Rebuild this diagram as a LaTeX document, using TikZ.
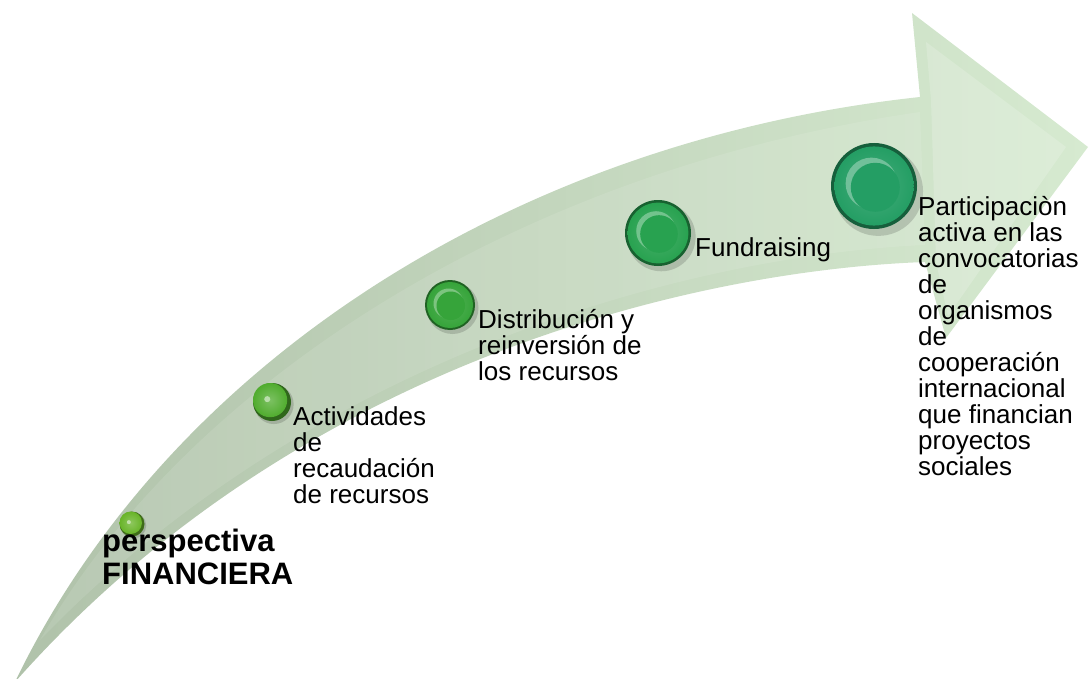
\documentclass[tikz,border=0pt]{standalone}
\usepackage{fontspec}
\setmainfont{Liberation Sans}
\definecolor{arrowA}{RGB}{176,194,170}
\definecolor{arrowB}{RGB}{214,234,208}
\definecolor{ballA}{RGB}{104,180,40}
\definecolor{ballB}{RGB}{80,172,46}
\definecolor{ballC}{RGB}{54,164,58}
\definecolor{ballD}{RGB}{40,162,80}
\definecolor{ballE}{RGB}{36,158,100}
\tikzset{
  lbl/.style={inner sep=0pt, align=left, anchor=base west, text=black,
    font=\fontsize{26}{26}\selectfont},
  ttl/.style={inner sep=0pt, align=left, anchor=base west, text=black,
    font=\fontsize{31}{33}\selectfont\bfseries},
  pics/ball/.style 2 args={code={
    \fill[black,opacity=0.15] (0.10*#1,0.12*#1) circle (1.04*#1);
    \fill[#2!60!black] (0,0) circle (#1);
    \shade[inner color=#2!85!white, outer color=#2] (0,0) circle (0.92*#1);
    \fill[#2!65!white] (-0.06*#1,-0.06*#1) circle (0.6*#1);
    \fill[#2] (0.03*#1,0.03*#1) circle (0.57*#1);
  }},
  pics/smallball/.style 2 args={code={
    \fill[black,opacity=0.15] (0.10*#1,0.12*#1) circle (1.04*#1);
    \fill[#2!60!black] (0,0) circle (#1);
    \shade[inner color=#2!75!white, outer color=#2] (-0.1*#1,-0.1*#1) circle (0.9*#1);
    \fill[#2!40!white] (-0.25*#1,-0.15*#1) circle (0.16*#1);
  }}
}
\begin{document}
\begin{tikzpicture}[x=1pt,y=-1pt]
\useasboundingbox (0,0) rectangle (1091,679);
% curved arrow
\shade[left color=arrowA, right color=arrowB]
  (15,682) .. controls (170,360) and (520,140) .. (920,97)
  -- (912,13) -- (1088,147) -- (946,338) -- (925,262)
  .. controls (700,270) and (300,360) .. (15,682) -- cycle;
% subtle facet on the arrow head
\fill[white,opacity=0.18] (926,42) -- (1066,147) -- (948,316) -- (936,262) -- (931,100) -- cycle;
% subtle light band along the shaft
\fill[white,opacity=0.10]
  (40,640) .. controls (190,380) and (520,170) .. (920,112)
  -- (925,245) .. controls (700,255) and (320,350) .. (40,640) -- cycle;
% balls
\pic at (132,524) {smallball={12.5}{ballA}};
\pic at (272,402) {smallball={19}{ballB}};
\pic at (450,305) {ball={25}{ballC}};
\pic at (658,233) {ball={33}{ballD}};
\pic at (874,186) {ball={43}{ballE}};
% labels (base anchor = baseline of the last line)
\node[ttl] (t1) at (102,584) {perspectiva\\FINANCIERA};
\node[lbl] (t2) at (293,503) {Actividades\\de\\recaudación\\de recursos};
\node[lbl] (t3) at (478,380) {Distribución y\\reinversión de\\los recursos};
\node[lbl] (t4) at (695,256) {Fundraising};
\node[lbl] (t5) at (918,475) {Participaciòn\\activa en las\\convocatorias\\de\\organismos\\de\\cooperación\\internacional\\que financian\\proyectos\\sociales};
\end{tikzpicture}
\end{document}
